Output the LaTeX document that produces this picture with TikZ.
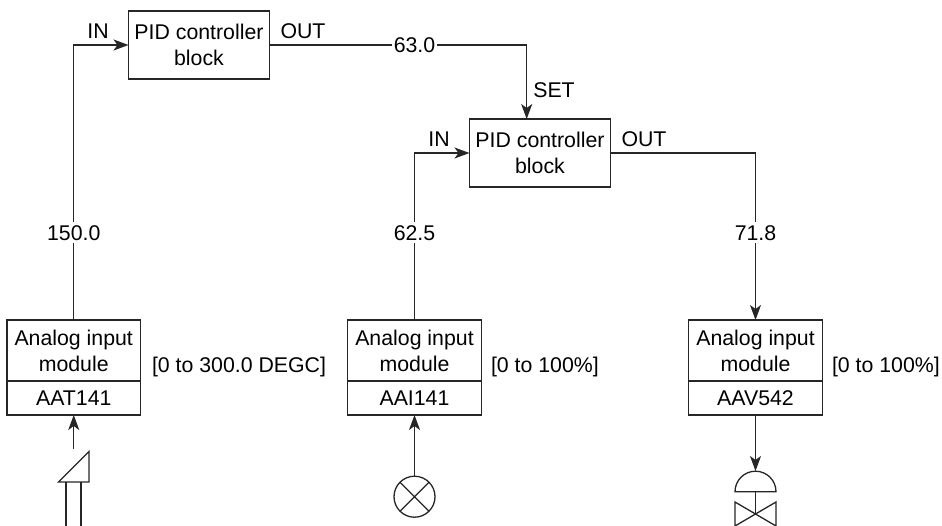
\documentclass[tikz,border=0pt]{standalone}
\usepackage{fontspec}
\setmainfont{Liberation Sans}
\usetikzlibrary{arrows.meta}
\tikzset{
  every node/.style={font=\fontsize{21.3}{26}\selectfont,inner sep=0pt,outer sep=0pt},
  line/.style={draw=black!85,line width=1.3pt},
  flow/.style={line,-{Stealth[length=15pt,width=11pt,inset=4pt]}},
  pidbox/.style={draw=black!85,line width=1.3pt,align=center,minimum width=141pt,minimum height=68pt},
  modbox/.style={draw=black!85,line width=1.3pt,align=center,minimum width=133.5pt,minimum height=61pt},
  tagbox/.style={draw=black!85,line width=1.3pt,minimum width=133.5pt,minimum height=34pt},
  tag/.style={anchor=base},
  value/.style={anchor=base,fill=white,inner xsep=2pt,inner ysep=3pt},
  symbol/.style={line}
}
\begin{document}
\begin{tikzpicture}[x=1pt,y=-1pt]
\useasboundingbox (0,0) rectangle (942,525);
\clip (0,0) rectangle (942,525);
% controllers
\node[pidbox] (pidA) at (199,45) {PID controller\\block};
\node[pidbox] (pidB) at (540,153) {PID controller\\block};
% modules
\node[modbox] (modA) at (73.75,350.5) {Analog input\\module};
\node[tagbox] (tagA) at (73.75,398) {AAT141};
\node[modbox] (modB) at (414.5,350.5) {Analog input\\module};
\node[tagbox] (tagB) at (414.5,398) {AAI141};
\node[modbox] (modC) at (755.5,350.5) {Analog input\\module};
\node[tagbox] (tagC) at (755.5,398) {AAV542};
% ranges
\node[anchor=base west] (rangeA) at (152,372) {[0 to 300.0 DEGC]};
\node[anchor=base west] (rangeB) at (491,372) {[0 to 100\%]};
\node[anchor=base west] (rangeC) at (832,372) {[0 to 100\%]};
% port labels
\node[tag] (inA) at (98,38) {IN};
\node[tag] (outA) at (303,38) {OUT};
\node[tag] (inB) at (439,146) {IN};
\node[tag] (outB) at (644,146) {OUT};
\node[tag] (setB) at (554,97) {SET};
% routing
\coordinate (cornerA) at (modA.north |- pidA.west);
\coordinate (setTop) at (526.7,45);
\coordinate (setEnd) at (526.7,119);
\coordinate (cornerB) at (modB.north |- pidB.west);
\coordinate (cornerC) at (modC.north |- pidB.east);
% connectors
\draw[flow] (modA.north) -- (cornerA) -- (pidA.west);
\draw[flow] (modB.north) -- (cornerB) -- (pidB.west);
\draw[line] (pidA.east) -- (setTop);
\draw[flow] (setTop) -- (setEnd);
\draw[flow] (pidB.east) -- (cornerC) -- (modC.north);
% values on lines
\node[value] (v150) at (73.75,240) {150.0};
\node[value] (v625) at (414.5,240) {62.5};
\node[value] (v718) at (755.5,240) {71.8};
\node[value] (v630) at (414.5,52) {63.0};
% field devices
\coordinate (sensorTop) at (73.75,449);
\draw[flow] (sensorTop) -- (tagA.south);
\draw[symbol,line join=miter] (58.5,482) -- (89,451.5) -- (89,482) -- cycle;
\draw[symbol] (66,482) -- (66,527) (81,482) -- (81,527);
\node[circle,draw=black!85,line width=1.3pt,minimum size=41pt] (lamp) at (414.5,496.7) {};
\draw[flow] (lamp.north) -- (tagB.south);
\draw[symbol] (lamp.45) -- (lamp.225) (lamp.135) -- (lamp.315);
\coordinate (actTop) at (755.5,471);
\draw[flow] (tagC.south) -- (actTop);
\draw[symbol] (735,491.7) arc[start angle=180,end angle=360,radius=20.5] -- cycle;
\draw[symbol] (755.5,491.7) -- (755.5,514);
\draw[symbol] (735,502) -- (776,526) -- (776,502) -- (735,526) -- cycle;
\end{tikzpicture}
\end{document}
